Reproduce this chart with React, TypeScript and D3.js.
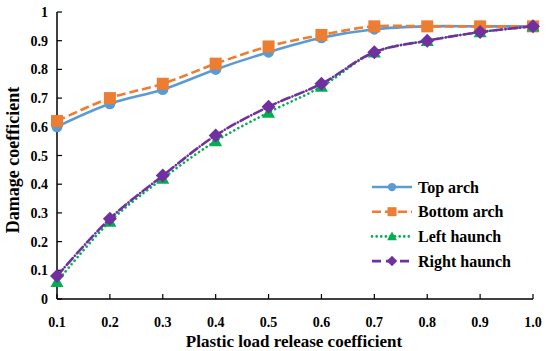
import React from "react";
import * as d3 from "d3";

const categories = ["0.1", "0.2", "0.3", "0.4", "0.5", "0.6", "0.7", "0.8", "0.9", "1.0"];
const topArch = [0.6, 0.68, 0.73, 0.8, 0.86, 0.91, 0.94, 0.95, 0.95, 0.95];
const bottomArch = [0.62, 0.7, 0.75, 0.82, 0.88, 0.92, 0.95, 0.95, 0.95, 0.95];
const leftHaunch = [0.06, 0.27, 0.42, 0.55, 0.65, 0.74, 0.86, 0.9, 0.93, 0.95];
const rightHaunch = [0.08, 0.28, 0.43, 0.57, 0.67, 0.75, 0.86, 0.9, 0.93, 0.95];
const yTicks = [0, 0.1, 0.2, 0.3, 0.4, 0.5, 0.6, 0.7, 0.8, 0.9, 1];
const seriesNames = ["Top arch", "Bottom arch", "Left haunch", "Right haunch"];

const txt = (size: number): React.CSSProperties => ({
  fontFamily: "'Liberation Serif', Tinos, serif",
  fontWeight: 700,
  fontSize: `${size}px`,
});

type Series = {
  name: string;
  values: number[];
  color: string;
  dash: string;
  legendDash: string;
  marker: "circle" | "square" | "triangle" | "diamond";
};

const series: Series[] = [
  { name: seriesNames[0], values: topArch, color: "#5B9BD5", dash: "none", legendDash: "none", marker: "circle" },
  { name: seriesNames[1], values: bottomArch, color: "#ED7D31", dash: "9,4", legendDash: "9,4", marker: "square" },
  { name: seriesNames[2], values: leftHaunch, color: "#00B050", dash: "0.1,4.5", legendDash: "0.1,4.5", marker: "triangle" },
  { name: seriesNames[3], values: rightHaunch, color: "#7030A0", dash: "9,3,0.1,3", legendDash: "9,5", marker: "diamond" },
];

function Marker({ type, x, y, color, s = 1 }: { type: string; x: number; y: number; color: string; s?: number }) {
  if (type === "circle") return <circle cx={x} cy={y} r={5.5 * s} fill={color} />;
  if (type === "square") return <rect x={x - 6 * s} y={y - 6 * s} width={12 * s} height={12 * s} fill={color} />;
  if (type === "triangle") {
    const h = 6.5 * s;
    return <path d={`M${x},${y - h}L${x + h},${y + h * 0.8}L${x - h},${y + h * 0.8}Z`} fill={color} />;
  }
  const d = 7 * s;
  return <path d={`M${x},${y - d}L${x + d},${y}L${x},${y + d}L${x - d},${y}Z`} fill={color} />;
}

export default function App() {
  const width = 550;
  const height = 351;
  const x = d3.scalePoint<string>().domain(categories).range([57, 533]);
  const y = d3.scaleLinear().domain([0, 1]).range([299, 12]);

  const line = d3
    .line<number>()
    .x((_, i) => x(categories[i])!)
    .y((d) => y(d))
    .curve(d3.curveCatmullRom.alpha(0.5));

  const legendX1 = 372;
  const legendX2 = 412;
  const legendTextX = 418;
  const legendY0 = 187;
  const legendStep = 24.7;

  return (
    <svg width={width} height={height} style={{ position: "absolute", left: 0, top: 0, background: "#fff" }}>
      <line x1={57} y1={y(0)} x2={533} y2={y(0)} stroke="#000" strokeWidth={1.5} />
      <line x1={57} y1={y(0)} x2={57} y2={y(1)} stroke="#000" strokeWidth={1.5} />
      {yTicks.map((t) => (
        <g key={t}>
          <line x1={57} x2={62} y1={y(t)} y2={y(t)} stroke="#000" strokeWidth={1.2} />
          <text x={48} y={y(t) + 5} textAnchor="end" style={txt(14)}>
            {t === 0 ? "0" : t === 1 ? "1" : d3.format(".1f")(t)}
          </text>
        </g>
      ))}
      {categories.map((c) => (
        <g key={c}>
          <line x1={x(c)} x2={x(c)} y1={y(0)} y2={y(0) - 5} stroke="#000" strokeWidth={1.2} />
          <text x={x(c)} y={327} textAnchor="middle" style={txt(14)}>
            {c}
          </text>
        </g>
      ))}

      {series.map((s) => (
        <g key={s.name}>
          <path
            d={line(s.values) || ""}
            fill="none"
            stroke={s.color}
            strokeWidth={2.6}
            strokeDasharray={s.dash}
            strokeLinecap={s.marker === "triangle" || s.marker === "diamond" ? "round" : "butt"}
          />
          {s.values.map((v, i) => (
            <Marker key={i} type={s.marker} x={x(categories[i])!} y={y(v)} color={s.color} />
          ))}
        </g>
      ))}

      {series.map((s, i) => {
        const ly = legendY0 + i * legendStep;
        return (
          <g key={s.name}>
            <line
              x1={legendX1}
              x2={legendX2}
              y1={ly}
              y2={ly}
              stroke={s.color}
              strokeWidth={2.6}
              strokeDasharray={s.legendDash}
              strokeLinecap={s.marker === "triangle" ? "round" : "butt"}
            />
            <Marker type={s.marker} x={(legendX1 + legendX2) / 2} y={ly} color={s.color} s={0.75} />
            <text x={legendTextX} y={ly + 5.5} style={txt(16)}>
              {s.name}
            </text>
          </g>
        );
      })}

      <text x={294} y={347} textAnchor="middle" style={txt(17)}>
        Plastic load release coefficient
      </text>
      <text transform="translate(19,160) rotate(-90)" textAnchor="middle" style={txt(18)}>
        Damage coefficient
      </text>
    </svg>
  );
}
